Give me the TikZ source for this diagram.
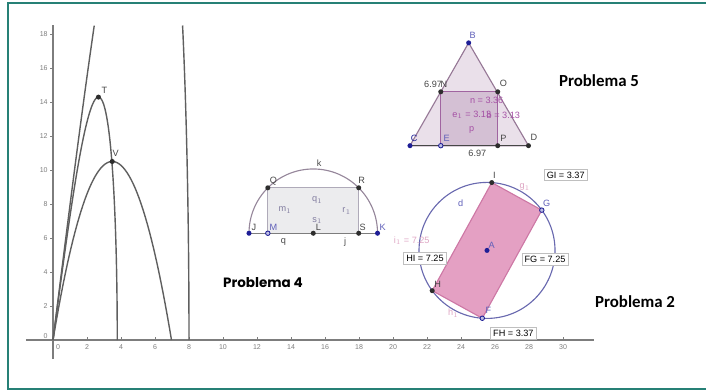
\documentclass[tikz,border=0pt]{standalone}
\usepackage{fontspec}
\setmainfont{Liberation Sans}
\newfontfamily\titlefont{Carlito}
\newfontfamily\titlefontb{Poppins}
\usetikzlibrary{calc}

\definecolor{frameteal}{RGB}{38,128,118}
\definecolor{axisgray}{RGB}{125,125,125}
\definecolor{curvegray}{RGB}{95,95,95}
\definecolor{ptdark}{RGB}{45,45,45}
\definecolor{ptblue}{RGB}{30,30,150}
\definecolor{lblblue}{RGB}{95,95,185}
\definecolor{lbldark}{RGB}{70,70,70}
\definecolor{trifill}{RGB}{234,224,234}
\definecolor{triedge}{RGB}{150,120,150}
\definecolor{rectfill}{RGB}{212,192,212}
\definecolor{rectedge}{RGB}{160,100,160}
\definecolor{purpletxt}{RGB}{165,80,165}
\definecolor{arcgray}{RGB}{150,135,155}
\definecolor{semifill}{RGB}{236,236,238}
\definecolor{semiedge}{RGB}{175,170,185}
\definecolor{semitxt}{RGB}{130,125,160}
\definecolor{circblue}{RGB}{105,105,175}
\definecolor{pinkfill}{RGB}{228,160,195}
\definecolor{pinkedge}{RGB}{205,120,165}
\definecolor{pinktxt}{RGB}{222,165,195}

\tikzset{
  lbl/.style={font=\fontsize{6.5}{7}\selectfont, inner sep=0pt, text=lbldark},
  ticklbl/.style={font=\fontsize{5}{6}\selectfont, text=axisgray, inner sep=0pt},
  valbox/.style={draw=black!25, fill=white, font=\fontsize{6.5}{7}\selectfont, inner sep=1.8pt},
  titulo/.style={font=\titlefont\bfseries\fontsize{12}{14}\selectfont, inner sep=0pt},
  graph/.style={curvegray, line width=1pt},
  openpt/.style={draw=ptblue, fill=lblblue!40, line width=0.6pt},
}

\begin{document}
\begin{tikzpicture}[x=0.425cm,y=0.425cm]
  \useasboundingbox (-3.1176,-3) rectangle (38.4118,20);
  \draw[frameteal, line width=1.4pt] (38.6,19.82) -- (-2.62,19.82) -- (-2.62,-2.88) -- (38.6,-2.88);

  % axes
  \draw[axisgray, line width=0.9pt] (-1.59,0) -- (31.8,0);
  \draw[axisgray, line width=0.9pt] (0,-1.12) -- (0,18.5);
  \foreach \x in {2,4,...,30} {
    \draw[axisgray] (\x,0) -- (\x,0.15);
    \node[ticklbl] (tx\x) at (\x,-0.41) {\x};
  }
  \node[ticklbl] (tx0) at (0.3,-0.41) {0};
  \foreach \y in {2,4,...,18} {
    \draw[axisgray] (0,\y) -- (-0.15,\y);
    \node[ticklbl, anchor=east] (ty\y) at (-0.3,\y) {\y};
  }
  \node[ticklbl, anchor=east] (ty0) at (-0.3,0.24) {0};

  % the three area functions
  \draw[graph, domain=0:17.66, samples=40, variable=\t] plot ({8*cos(\t)},{32*sin(2*\t)});
  \draw[graph, domain=72.35:90, samples=40, variable=\t] plot ({8*cos(\t)},{32*sin(2*\t)});
  \draw[graph, domain=0:90, samples=90, variable=\t] plot ({3.78*cos(\t)},{14.2884*sin(2*\t)});
  \draw[graph, domain=0:6.97, samples=60] plot (\x,{6.026*\x*(1-\x/6.97)});
  \coordinate (T) at (2.673,14.288);
  \coordinate (V) at (3.485,10.5);
  \fill[ptdark] (T) circle (1.8pt);
  \fill[ptdark] (V) circle (1.8pt);
  \node[lbl] (lT) at (3.02,14.71) {T};
  \node[lbl] (lV) at (3.69,10.98) {V};

  % Problema 5
  \coordinate (C) at (21.0,11.43);
  \coordinate (D) at (27.97,11.43);
  \coordinate (B) at (24.45,17.48);
  \coordinate (E) at (22.81,11.43);
  \coordinate (P) at (26.16,11.43);
  \coordinate (N) at (22.81,14.6);
  \coordinate (O) at (26.16,14.6);
  \filldraw[fill=trifill, draw=triedge, line width=0.8pt] (C) -- (B) -- (D) -- cycle;
  \filldraw[fill=rectfill, draw=rectedge, line width=0.8pt] (E) -- (N) -- (O) -- (P) -- cycle;
  \draw[lbldark, line width=0.8pt] (C) -- (D);
  \foreach \p in {N,O,P} \fill[ptdark] (\p) circle (1.8pt);
  \foreach \p in {B,C} \fill[ptblue] (\p) circle (1.8pt);
  \fill[ptdark] (D) circle (1.8pt);
  \filldraw[openpt] (E) circle (1.6pt);
  \node[lbl, text=lblblue] (lB) at (24.69,17.92) {B};
  \node[lbl, anchor=east] (l697a) at (22.9,15.04) {6.97};
  \node[lbl] (lN) at (23.0,15.04) {N};
  \node[lbl] (lO) at (26.49,15.1) {O};
  \node[lbl, text=ptblue] (lC) at (21.24,11.88) {C};
  \node[lbl, text=lblblue] (lE) at (23.16,11.86) {E};
  \node[lbl] (lP) at (26.49,11.86) {P};
  \node[lbl] (lD) at (28.29,11.92) {D};
  \node[lbl] (l697b) at (24.96,10.98) {6.97};
  \node[lbl, text=purpletxt] (ln) at (25.51,14.08) {n = 3.36};
  \node[lbl, text=purpletxt] (le) at (24.63,13.25) {e$_1$ = 3.13};
  \node[lbl, text=purpletxt] (lb) at (26.49,13.25) {b = 3.13};
  \node[lbl, text=purpletxt] (lp) at (24.63,12.37) {p};
  \node[titulo] (prob5) at (32.12,15.25) {Problema 5};

  % Problema 4
  \coordinate (L) at (15.31,6.28);
  \coordinate (J) at (11.53,6.28);
  \coordinate (K) at (19.09,6.28);
  \coordinate (Q) at (12.637,8.953);
  \coordinate (M) at (12.637,6.28);
  \coordinate (R) at (17.983,8.953);
  \coordinate (S) at (17.983,6.28);
  \filldraw[fill=semifill, draw=semiedge, line width=0.8pt] (M) -- (Q) -- (R) -- (S) -- cycle;
  \draw[arcgray, line width=0.8pt] (K) arc (0:180:3.78);
  \draw[axisgray, line width=0.8pt] (J) -- (K);
  \foreach \p in {Q,R,L,S} \fill[ptdark] (\p) circle (1.8pt);
  \foreach \p in {J,K} \fill[ptblue] (\p) circle (1.8pt);
  \filldraw[openpt] (M) circle (1.6pt);
  \node[lbl] (lk) at (15.66,10.39) {k};
  \node[lbl] (lQ) at (12.96,9.37) {Q};
  \node[lbl] (lR) at (18.16,9.37) {R};
  \node[lbl, text=semitxt] (lq1) at (15.55,8.24) {q$_1$};
  \node[lbl, text=semitxt] (lm1) at (13.65,7.65) {m$_1$};
  \node[lbl, text=semitxt] (lr1) at (17.28,7.59) {r$_1$};
  \node[lbl, text=semitxt] (ls1) at (15.55,7.02) {s$_1$};
  \node[lbl] (lJ) at (11.82,6.63) {J};
  \node[lbl, text=lblblue] (lM) at (12.96,6.63) {M};
  \node[lbl] (lL) at (15.61,6.63) {L};
  \node[lbl] (lS) at (18.22,6.63) {S};
  \node[lbl, text=lblblue] (lK) at (19.39,6.63) {K};
  \node[lbl] (lq) at (13.55,5.78) {q};
  \node[lbl] (lj) at (17.18,5.78) {j};
  \node[titulo, font=\titlefontb\bfseries\fontsize{9.6}{11}\selectfont] (prob4) at (12.35,3.37) {Problema 4};

  % Problema 2
  \coordinate (A) at (25.53,5.27);
  \coordinate (I) at ($(A)+(86:4)$);
  \coordinate (G) at ($(A)+(36.3:4)$);
  \coordinate (F) at ($(A)+(266:4)$);
  \coordinate (H) at ($(A)+(216.3:4)$);
  \draw[circblue, line width=0.8pt] (A) circle (4);
  \filldraw[fill=pinkfill, draw=pinkedge, line width=0.8pt] (I) -- (G) -- (F) -- (H) -- cycle;
  \foreach \p in {I,H} \fill[ptdark] (\p) circle (1.8pt);
  \foreach \p in {G,F} \filldraw[openpt] (\p) circle (1.6pt);
  \fill[ptblue] (A) circle (1.8pt);
  \node[lbl] (lI) at (25.96,9.71) {I};
  \node[lbl, text=pinktxt] (lg1) at (27.76,8.98) {g$_1$};
  \node[lbl, text=lblblue] (lG) at (29.04,8.04) {G};
  \node[lbl, text=lblblue] (ld) at (23.98,8.04) {d};
  \node[lbl, text=pinktxt] (li1) at (21.1,5.84) {i$_1$ = 7.25};
  \node[lbl, text=lblblue] (lA) at (25.81,5.59) {A};
  \node[lbl] (lH) at (22.63,3.28) {H};
  \node[lbl, text=lblblue] (lF) at (25.61,1.76) {F};
  \node[lbl, text=pinktxt] (lh1) at (23.55,1.57) {h$_1$};
  \node[valbox] (HI) at (21.88,4.82) {HI = 7.25};
  \node[valbox] (FG) at (28.94,4.75) {FG = 7.25};
  \node[valbox] (GI) at (30.16,9.71) {GI = 3.37};
  \node[valbox] (FH) at (27.08,0.39) {FH = 3.37};
  \node[titulo] (prob2) at (34.24,2.25) {Problema 2};
\end{tikzpicture}
\end{document}
